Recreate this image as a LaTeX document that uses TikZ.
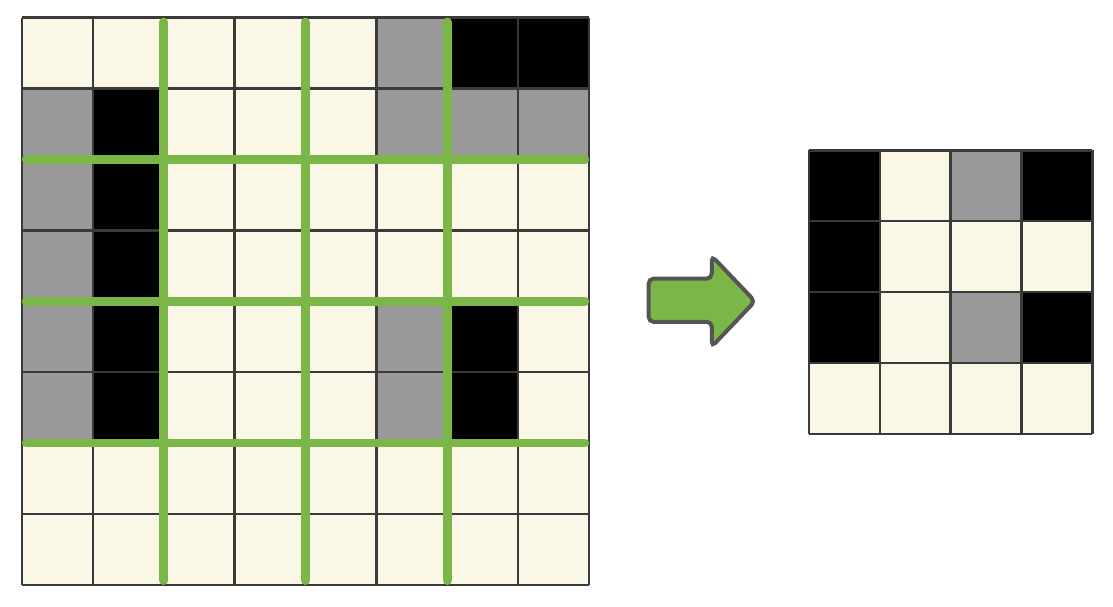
\documentclass[tikz,border=0pt]{standalone}
\usetikzlibrary{positioning}
\definecolor{cream}{HTML}{FAF7E6}
\definecolor{midgray}{HTML}{999999}
\definecolor{poolgreen}{HTML}{7AB648}
\definecolor{gridline}{HTML}{3A3A3A}
\definecolor{arrowline}{HTML}{555555}
\begin{document}
\begin{tikzpicture}
	\useasboundingbox (-0.31,-0.31) rectangle (15.39,8.25);
	
	% 左侧 8×8 输入
	\fill[cream] (0,0) rectangle (8,8);
	\foreach \x/\y in {5/7,0/6,5/6,6/6,7/6,0/5,0/4,0/3,5/3,0/2,5/2} \fill[midgray] (\x,\y) rectangle ++(1,1);
	\foreach \x/\y in {6/7,7/7,1/6,1/5,1/4,1/3,6/3,1/2,6/2} \fill[black] (\x,\y) rectangle ++(1,1);
	\foreach \x in {0,...,8} \draw[gridline, line width=1pt] (\x,0) -- (\x,8);
	\foreach \y in {0,...,8} \draw[gridline, line width=1pt] (0,\y) -- (8,\y);
	
	% 绿色 2×2 池化窗口
	\foreach \x in {2,4,6} \draw[poolgreen, line width=3.5pt, line cap=round] (\x,0.06) -- (\x,7.94);
	\foreach \y in {2,4,6} \draw[poolgreen, line width=3.5pt, line cap=round] (0.06,\y) -- (7.94,\y);
	
	% 箭头
	\filldraw[fill=poolgreen, draw=arrowline, line width=1.6pt, rounded corners=2pt]
		(8.84,3.71) -- (8.84,4.32) -- (9.73,4.32) -- (9.73,4.64) -- (10.34,4.0)
		-- (9.73,3.36) -- (9.73,3.71) -- cycle;
	
	% 右侧 4×4 输出
	\begin{scope}[shift={(11.1,2.13)}]
		\fill[cream] (0,0) rectangle (4,4);
		\foreach \x/\y in {2/3,2/1} \fill[midgray] (\x,\y) rectangle ++(1,1);
		\foreach \x/\y in {0/3,3/3,0/2,0/1,3/1} \fill[black] (\x,\y) rectangle ++(1,1);
		\foreach \x in {0,...,4} \draw[gridline, line width=1pt] (\x,0) -- (\x,4);
		\foreach \y in {0,...,4} \draw[gridline, line width=1pt] (0,\y) -- (4,\y);
	\end{scope}
\end{tikzpicture}
\end{document}
